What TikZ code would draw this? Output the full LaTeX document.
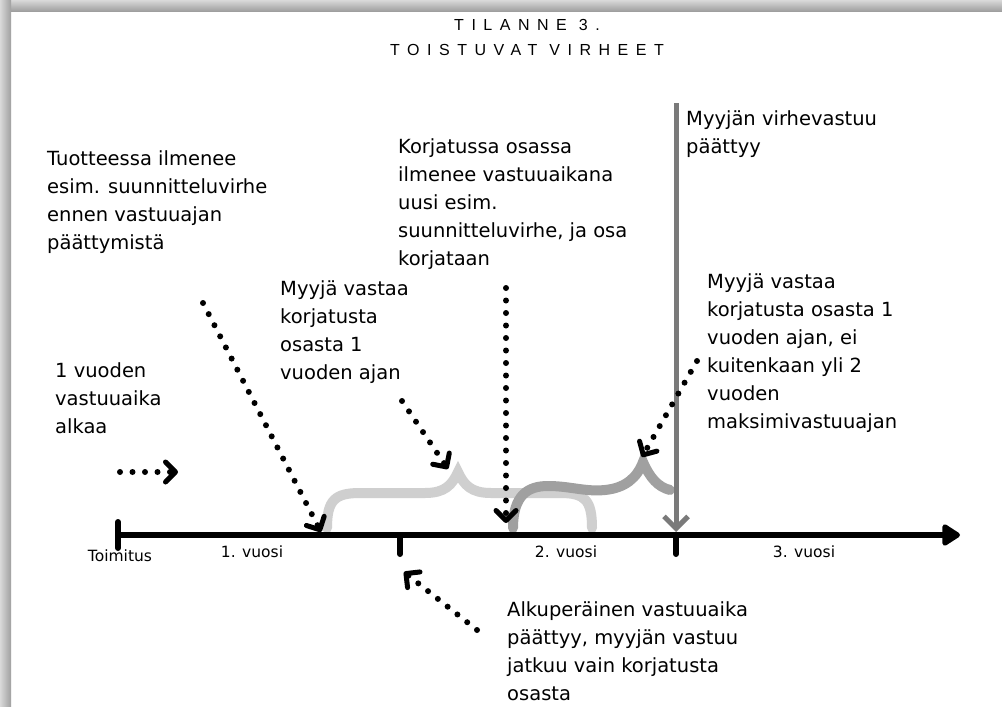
\documentclass[tikz,border=0pt]{standalone}
\usepackage{fontspec}
\setmainfont{DejaVu Sans}
\newfontfamily\otsikkofont[LetterSpace=47]{Liberation Sans}
\usetikzlibrary{arrows.meta}

\definecolor{vaalea}{HTML}{CFCFCF}
\definecolor{tumma}{HTML}{A0A0A0}
\definecolor{rajaharmaa}{HTML}{7A7A7A}

\begin{document}
\begin{tikzpicture}[x=1pt,y=-1pt,
  teksti/.style={font=\fontsize{19.5}{28}\selectfont, align=left, anchor=north west, inner sep=0pt, execute at begin node=\strut},
  akseliteksti/.style={font=\fontsize{15.5}{18}\selectfont, anchor=base, inner sep=0pt},
  otsikko/.style={font=\otsikkofont\fontsize{16}{19}\selectfont, anchor=base, inner sep=0pt},
  pisteet/.style={line width=6pt, line cap=round, dash pattern=on 0pt off 12.5pt,
    -{Straight Barb[round,length=10pt,width=20pt,line width=5pt]}},
  sulje/.style={line width=10pt, line cap=round}]
\useasboundingbox (0,0) rectangle (1002,707);
\fill[white] (0,0) rectangle (1002,707);
\shade[top color=gray!30, bottom color=gray!75] (0,0) rectangle (1002,11);
\shade[left color=gray!30, right color=gray!75] (0,0) rectangle (11,707);

\coordinate (a0) at (118,535);
\coordinate (a1) at (400,535);
\coordinate (a2) at (676,535);
\coordinate (a3) at (960,535);
\coordinate (raja0) at (676,103);
\coordinate (raja1) at (676,532);

% nuolten paat
\coordinate (p1a) at (120,472);
\coordinate (p1b) at (178,472);
\coordinate (p2a) at (203,303);
\coordinate (p2b) at (321,532);
\coordinate (p3a) at (402,401);
\coordinate (p3b) at (448,469);
\coordinate (p4a) at (506,288);
\coordinate (p4b) at (506,523);
\coordinate (p5a) at (697,361);
\coordinate (p5b) at (642,457);
\coordinate (p6a) at (477,630);
\coordinate (p6b) at (404,572);

\draw[sulje,vaalea] (327,528) .. controls (327,500) and (335,493) .. (360,493) -- (425,493)
  .. controls (445,493) and (452,485) .. (458,472) .. controls (464,485) and (471,493) .. (491,493)
  -- (560,493) .. controls (585,493) and (592,500) .. (592,528);
\draw[sulje,tumma] (513,528) .. controls (513,495) and (528,486) .. (548,486)
  .. controls (570,486) and (585,492) .. (605,490) .. controls (625,488) and (637,478) .. (643,462)
  .. controls (650,478) and (658,487) .. (670,490);

\draw[line width=6pt, -{Triangle[round,length=20pt,width=24pt]}] (a0) -- (a3);
\draw[line width=6pt, line cap=round] (a0) ++(0,-13) -- ++(0,26);
\foreach \piste in {a1,a2}
\draw[line width=6pt, line cap=round] (\piste) -- ++(0,19);

\draw[line width=5pt, rajaharmaa, -{Straight Barb[length=12pt,width=24pt]}] (raja0) -- (raja1);

\foreach \nuoli in {p1,p2,p3,p4,p5,p6}
\draw[pisteet] (\nuoli a) -- (\nuoli b);

\node[otsikko] (otsikko1) at (527,30) {TILANNE 3.};
\node[otsikko] (otsikko2) at (527,55) {TOISTUVAT VIRHEET};

\node[teksti] (tuote) at (47,150.5) {Tuotteessa ilmenee\\esim. suunnitteluvirhe\\ennen vastuuajan\\päättymistä};
\node[teksti] (alkaa) at (55,362) {1 vuoden\\vastuuaika\\alkaa};
\node[teksti] (vastaa) at (280,280.5) {Myyjä vastaa\\korjatusta\\osasta 1\\vuoden ajan};
\node[teksti] (uusi) at (398,138.5) {Korjatussa osassa\\ilmenee vastuuaikana\\uusi esim.\\suunnitteluvirhe, ja osa\\korjataan};
\node[teksti] (loppuu) at (686,110) {Myyjän virhevastuu\\päättyy};
\node[teksti] (maksimi) at (707,273) {Myyjä vastaa\\korjatusta osasta 1\\vuoden ajan, ei\\kuitenkaan yli 2\\vuoden\\maksimivastuuajan};
\node[teksti] (alkup) at (507,601) {Alkuperäinen vastuuaika\\päättyy, myyjän vastuu\\jatkuu vain korjatusta\\osasta};

\node[akseliteksti] (toimitus) at (120,561) {Toimitus};
\node[akseliteksti] (v1) at (252,557) {1. vuosi};
\node[akseliteksti] (v2) at (566,557) {2. vuosi};
\node[akseliteksti] (v3) at (804,557) {3. vuosi};
\end{tikzpicture}
\end{document}
